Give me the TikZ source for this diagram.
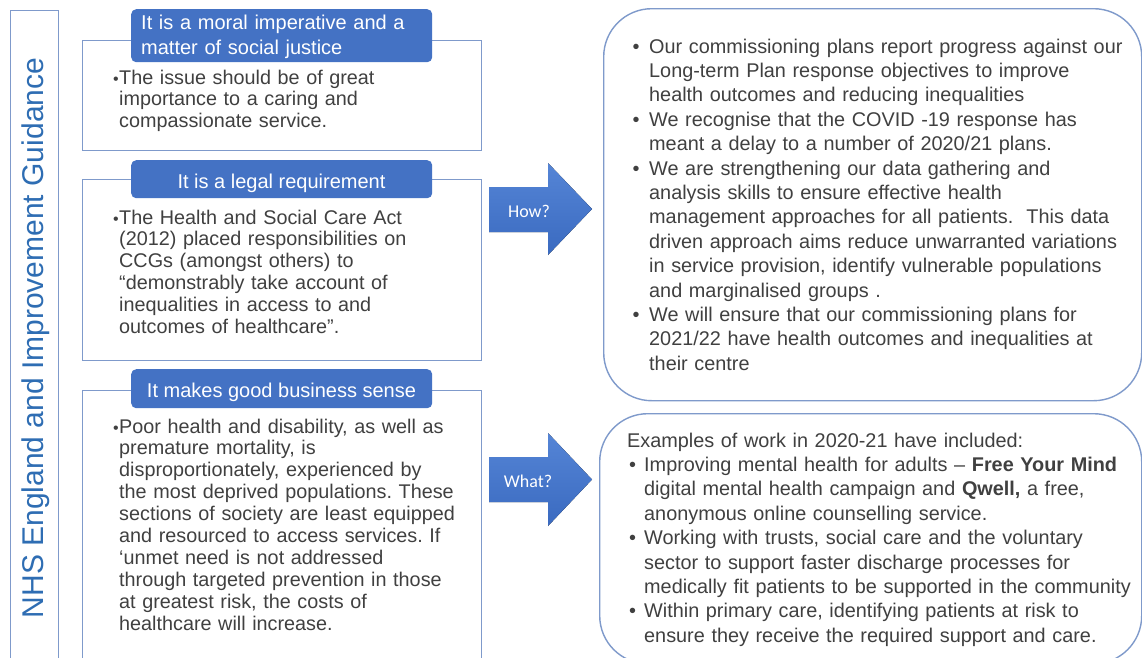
\documentclass[tikz,border=0pt]{standalone}
\usepackage{fontspec}
\setmainfont{Liberation Sans}
\newfontfamily\calibrifont{Carlito}
\definecolor{hdrblue}{HTML}{4472C4}
\definecolor{edgeblue}{HTML}{7F9ACB}
\definecolor{bodygray}{HTML}{404040}
\definecolor{titleblue}{HTML}{2E6DB3}
\definecolor{arrowtop}{HTML}{5585D6}
\definecolor{arrowbot}{HTML}{3A6AC0}
\frenchspacing

% bullets: right panels hang by 17pt, left panels by the width of the dot
\newcommand{\rbul}{\hangindent=17pt\hangafter=1\noindent\makebox[17pt][l]{\hspace{0.5pt}•}}
\newcommand{\wbul}{\hangindent=17pt\hangafter=1\noindent\makebox[17pt][l]{\hspace{2pt}•}}
\newcommand{\lbul}{\hangindent=6pt\hangafter=1\noindent\makebox[6pt][l]{{\fontsize{16}{16}\selectfont •}}}

\begin{document}
\begin{tikzpicture}[x=1pt,y=-1pt,
  panel/.style={draw=edgeblue, line width=1.4pt, rectangle, inner sep=0pt, anchor=north west},
  roundpanel/.style={panel, rounded corners=48pt},
  hdr/.style={fill=hdrblue, rounded corners=5pt, text=white, inner sep=0pt, anchor=north west,
              font=\fontsize{20}{25}\selectfont},
  lefttext/.style={text=bodygray, inner sep=0pt, anchor=base west, align=left, text width=380pt,
              font=\fontsize{19.8}{21.9}\selectfont},
  righttext/.style={text=bodygray, inner sep=0pt, anchor=base west, align=left, text width=520pt,
              font=\fontsize{19.85}{24.4}\selectfont},
  arrowlabel/.style={text=white, inner sep=0pt, font=\calibrifont\fontsize{18}{18}\selectfont},
  bigarrow/.style={top color=arrowtop, bottom color=arrowbot, draw=none}
]
\path[use as bounding box] (0,0) rectangle (1142,657);
\clip (0,0) rectangle (1142,657);
\fill[white] (0,0) rectangle (1142,657);

% vertical title strip
\node[panel, minimum width=48pt, minimum height=680pt] (strip) at (10,10) {};
\node[rotate=90, text=titleblue, font=\fontsize{30}{30}\selectfont, inner sep=0pt] (title)
  at (36,338) {NHS England and Improvement Guidance};

% left-hand reason panels
\node[panel, minimum width=399pt, minimum height=110pt] (box1) at (82,40) {};
\node[panel, minimum width=399pt, minimum height=181pt] (box2) at (82,179) {};
\node[panel, minimum width=399pt, minimum height=300pt] (box3) at (82,390) {};

\node[hdr, minimum width=301pt, minimum height=53pt] (h1) at (131,9) {};
\node[text=white, anchor=base west, inner sep=0pt, align=left, text width=290pt,
      font=\fontsize{20}{25}\selectfont] (h1text) at (141,29)
  {It is a moral imperative and a\\matter of social justice};
\node[hdr, minimum width=301pt, minimum height=38pt] (h2) at (131,160) {};
\node[text=white, anchor=base, inner sep=0pt, font=\fontsize{20}{25}\selectfont] (h2text)
  at (281.5,188) {It is a legal requirement};
\node[hdr, minimum width=301pt, minimum height=39pt] (h3) at (131,369) {};
\node[text=white, anchor=base, inner sep=0pt, font=\fontsize{20}{25}\selectfont] (h3text)
  at (281.5,397) {It makes good business sense};

\node[lefttext] (t1) at (113,84)
  {\lbul The issue should be of great\newline importance to a caring and\newline compassionate service.\par};
\node[lefttext] (t2) at (113,224)
  {\lbul The Health and Social Care Act\newline (2012) placed responsibilities on\newline
   CCGs (amongst others) to\newline “demonstrably take account of\newline
   inequalities in access to and\newline outcomes of healthcare”.\par};
\node[lefttext] (t3) at (113,433)
  {\lbul Poor health and disability, as well as\newline premature mortality, is\newline
   disproportionately, experienced by\newline the most deprived populations. These\newline
   sections of society are least equipped\newline and resourced to access services. If\newline
   ‘unmet need is not addressed\newline through targeted prevention in those\newline
   at greatest risk, the costs of\newline healthcare will increase.\par};

% block arrows
\fill[bigarrow] (489,187) -- (548,187) -- (548,163) -- (592,209) -- (548,255) -- (548,232) -- (489,232) -- cycle;
\node[arrowlabel] (how) at (529,211) {How?};
\fill[bigarrow] (489,457) -- (548,457) -- (548,433) -- (592,479.5) -- (548,526) -- (548,502) -- (489,502) -- cycle;
\node[arrowlabel] (what) at (528,481) {What?};

% right-hand panels
\node[roundpanel, minimum width=538pt, minimum height=392pt] (howbox) at (603,8) {};
\node[roundpanel, minimum width=542pt, minimum height=250pt] (whatbox) at (599,413) {};

\node[righttext] (howtext) at (632,53)
  {\rbul Our commissioning plans report progress against our\newline
   Long-term Plan response objectives to improve\newline
   health outcomes and reducing inequalities\par
   \rbul We recognise that the COVID -19 response has\newline
   meant a delay to a number of 2020/21 plans.\par
   \rbul We are strengthening our data gathering and\newline
   analysis skills to ensure effective health\newline
   management approaches for all patients.~ This data\newline
   driven approach aims reduce unwarranted variations\newline
   in service provision, identify vulnerable populations\newline
   and marginalised groups .\par
   \rbul We will ensure that our commissioning plans for\newline
   2021/22 have health outcomes and inequalities at\newline
   their centre\par};

\node[righttext] (whattext) at (627,447)
  {Examples of work in 2020-21 have included:\par
   \wbul Improving mental health for adults – \textbf{Free Your Mind}\newline
   digital mental health campaign and \textbf{Qwell,} a free,\newline
   anonymous online counselling service.\par
   \wbul Working with trusts, social care and the voluntary\newline
   sector to support faster discharge processes for\newline
   medically fit patients to be supported in the community\par
   \wbul Within primary care, identifying patients at risk to\newline
   ensure they receive the required support and care.\par};
\end{tikzpicture}
\end{document}
